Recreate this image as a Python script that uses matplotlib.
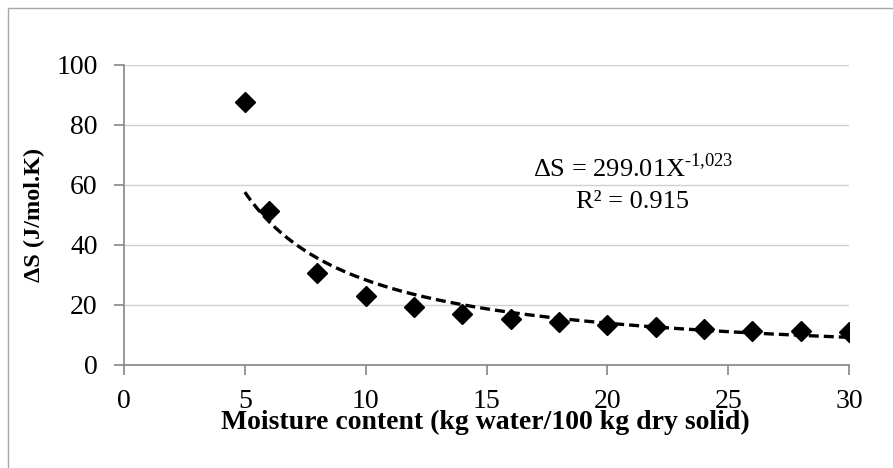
import matplotlib.pyplot as plt
from matplotlib.patches import Rectangle
import numpy as np

# moisture content (kg water/100 kg dry solid) and entropy change
moisture = [5, 6, 8, 10, 12, 14, 16, 18, 20, 22, 24, 26, 28, 30]
delta_s = [87.7, 51.4, 30.6, 23.0, 19.2, 17.0, 15.3, 14.2, 13.4, 12.8, 12.0, 11.5, 11.5, 11.0]

# power trendline coefficients shown on the chart
fit_a = 299.01
fit_b = -1.023
fit_label = r'ΔS = 299.01X$^{\text{-1,023}}$'
r2_label = 'R² = 0.915'

xticks = [0, 5, 10, 15, 20, 25, 30]
yticks = [0, 20, 40, 60, 80, 100]

plt.rcParams['font.family'] = ['Liberation Serif', 'DejaVu Serif']
plt.rcParams['mathtext.fontset'] = 'custom'
plt.rcParams['mathtext.rm'] = 'Liberation Serif'

fig = plt.figure(figsize=(8.93, 4.68), dpi=100)
ax = fig.add_axes([124/893, 1 - 365/468, 725/893, 300/468])

# outer frame of the chart area
fig.patches.append(Rectangle((8/893, -0.1), 1.2, 1 - 8/468 + 0.1, transform=fig.transFigure,
                             fill=False, edgecolor='#a6a6a6', linewidth=1.0))

gray = '#868686'
xs = np.linspace(min(moisture), max(moisture), 200)
ax.plot(xs, fit_a * xs ** fit_b, color='black', linestyle=(0, (3.0, 1.5)), linewidth=2.4, zorder=3)
ax.plot(moisture, delta_s, linestyle='none', marker='D', markersize=10, color='black', zorder=4)

ax.set_xlim(0, 30)
ax.set_ylim(0, 100)
ax.set_xticks(xticks)
ax.set_yticks(yticks)
ax.grid(axis='y', color='#d0d0d0', linewidth=1.0)
ax.set_axisbelow(True)
for side in ['top', 'right']:
    ax.spines[side].set_visible(False)
for side in ['left', 'bottom']:
    ax.spines[side].set_color(gray)
    ax.spines[side].set_linewidth(1.2)
ax.tick_params(axis='both', direction='out', length=7, width=1.2, color=gray,
               labelsize=20)
ax.tick_params(axis='x', pad=10.5)
ax.tick_params(axis='y', pad=12)

ax.set_xlabel('Moisture content (kg water/100 kg dry solid)', fontsize=20,
              fontweight='bold', va='baseline')
ax.xaxis.set_label_coords(0.498, (365 - 429) / 300)
ax.set_ylabel('ΔS (J/mol.K)', fontsize=17.5, fontweight='bold', va='center')
ax.yaxis.set_label_coords((34 - 124) / 725, 0.5)

ax.text(21.06, 65.8, fit_label, fontsize=19, ha='center', va='center')
ax.text(21.06, 54.2, r2_label, fontsize=19, ha='center', va='center')

fig.savefig('out.png', dpi=100)
